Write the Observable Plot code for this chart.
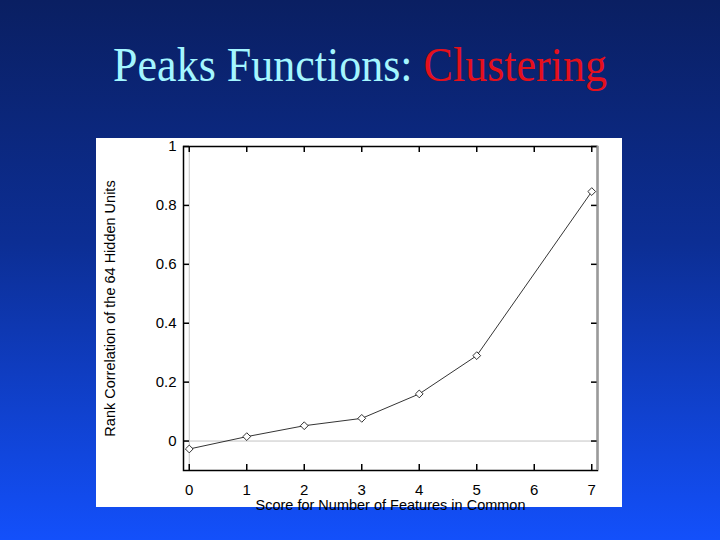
<!DOCTYPE html>
<html>
<head>
<meta charset="utf-8">
<script src="https://cdn.jsdelivr.net/npm/d3@7"></script>
<script src="https://cdn.jsdelivr.net/npm/@observablehq/plot@0.6"></script>
<style>
  html, body { margin: 0; padding: 0; }
  body {
    width: 720px; height: 540px; position: relative; overflow: hidden;
    background: linear-gradient(to bottom, #0a1f62 0%, #0c2e94 45%, #1350fb 100%);
  }
  #title {
    position: absolute; left: 0; top: 45px; width: 720px; text-align: center;
    font-family: "Liberation Serif", "Times New Roman", serif; font-size: 44px;
    line-height: 44px; color: #a4f6ff; white-space: nowrap;
    transform: scaleY(1.1); transform-origin: center 37px;
  }
  #title .red { color: #e4101c; }
  #panel {
    position: absolute; left: 96px; top: 138px; width: 526px; height: 369px;
    background: #ffffff;
  }
  #panel svg { position: absolute; left: 0; top: 0; overflow: visible; }
</style>
</head>
<body>
<div id="title">Peaks Functions: <span class="red">Clustering</span></div>
<div id="panel"></div>
<script>
const scores = [0, 1, 2, 3, 4, 5, 7];
const correlations = [-0.027, 0.015, 0.052, 0.077, 0.16, 0.29, 0.847];
const xTicks = [0, 1, 2, 3, 4, 5, 6, 7];
const yTicks = [0, 0.2, 0.4, 0.6, 0.8, 1];
const yTickLabels = ["0", "0.2", "0.4", "0.6", "0.8", "1"];
const xDomain = [-0.1, 7.1];
const yDomain = [-0.1, 1];
const xTitle = "Score for Number of Features in Common";
const yTitle = "Rank Correlation of the 64 Hidden Units";

const data = scores.map((s, i) => ({score: s, corr: correlations[i]}));

const W = 526, H = 369, ML = 87, MR = 25, MT = 8, MB = 37, TICK = 6;
const frameW = W - ML - MR, frameH = H - MT - MB;

const chart = Plot.plot({
  width: W,
  height: H,
  marginLeft: ML,
  marginRight: MR,
  marginTop: MT,
  marginBottom: MB,
  style: {fontFamily: "'Liberation Sans', Arial, sans-serif", fontSize: "15px", color: "black", background: "transparent", overflow: "visible"},
  x: {domain: xDomain, ticks: xTicks, tickSize: 0, tickPadding: 14, label: null, tickFormat: d => String(d)},
  y: {domain: yDomain, ticks: yTicks, tickSize: 0, tickPadding: 7, label: null,
      tickFormat: (d) => yTickLabels[yTicks.indexOf(d)]},
  marks: [
    Plot.ruleY([0], {stroke: "#c4c4c4", strokeWidth: 1}),
    Plot.ruleX([0], {stroke: "#c4c4c4", strokeWidth: 1}),
    Plot.tickX(xTicks, {x: d => d, insetTop: frameH - TICK, stroke: "black", strokeWidth: 1.5}),
    Plot.tickX(xTicks, {x: d => d, insetBottom: frameH - TICK, stroke: "black", strokeWidth: 1.5}),
    Plot.tickY(yTicks, {y: d => d, insetRight: frameW - TICK, stroke: "black", strokeWidth: 1.5}),
    Plot.tickY(yTicks, {y: d => d, insetLeft: frameW - TICK, stroke: "black", strokeWidth: 1.5}),
    Plot.frame({stroke: "black", strokeWidth: 1.5}),
    Plot.ruleX([xDomain[1]], {stroke: "#9a9a9a", strokeWidth: 2}),
    Plot.text([xTitle], {frameAnchor: "bottom", dy: 35, lineAnchor: "middle", textAnchor: "middle", fill: "black", fontSize: 14.5}),
    Plot.text([yTitle], {frameAnchor: "left", rotate: -90, dx: -73, lineAnchor: "middle", textAnchor: "middle", fill: "black", fontSize: 14.5}),
    Plot.line(data, {x: "score", y: "corr", stroke: "black", strokeWidth: 0.8}),
    Plot.dot(data, {x: "score", y: "corr", symbol: "diamond2", r: 3.5, stroke: "black", fill: "white", strokeWidth: 0.8})
  ]
});
document.getElementById("panel").appendChild(chart);
</script>
</body>
</html>
